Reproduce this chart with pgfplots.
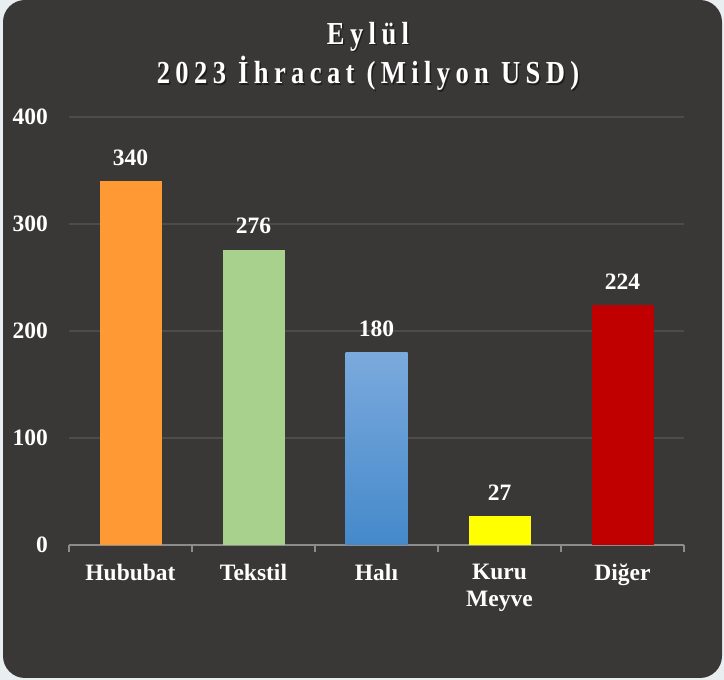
\documentclass[border=0pt]{standalone}
\usepackage{fontspec}
\setmainfont{Liberation Serif}
\usepackage{pgfplots}
\pgfplotsset{compat=1.18}
\definecolor{outerbg}{HTML}{E9EFF1}
\definecolor{panel}{HTML}{3A3837}
\definecolor{gridc}{HTML}{4E4C4B}
\definecolor{axisc}{HTML}{8C8C8C}
\definecolor{c1}{HTML}{FF9933}
\definecolor{c2}{HTML}{A9D18E}
\definecolor{c3t}{HTML}{7AAADD}
\definecolor{c3b}{HTML}{4589CA}
\definecolor{c4}{HTML}{FFFF00}
\definecolor{c5}{HTML}{C00000}
\newcommand{\lblfont}{\bfseries\fontsize{23.5}{27}\selectfont}
\newcommand{\ttlfont}{\bfseries\fontsize{32}{36}\selectfont}
\newdimen\lsp \lsp=6.5pt
\def\sp#1{\spi#1\relax}
\def\spi#1{\ifx\relax#1\else#1\kern\lsp\expandafter\spi\fi}
\newcommand{\ttlone}{\scalebox{0.83}[1]{\sp{Eylül}}}
\newcommand{\ttltwo}{\scalebox{0.83}[1]{\sp{2023} \sp{İhracat} \sp{(Milyon} \sp{USD)}}}
\begin{document}
\begin{tikzpicture}[x=1pt,y=1pt]
\fill[outerbg] (0,0) rectangle (724,680);
\fill[panel, rounded corners=22pt] (3,2) rectangle (722,680);
\node[anchor=base, text=black, opacity=0.45, font=\ttlfont] at (372.2,634) {\ttlone};
\node[anchor=base, text=black, opacity=0.45, font=\ttlfont] at (372.2,594.5) {\ttltwo};
\node[anchor=base, text=white, font=\ttlfont] at (370.7,635.5) {\ttlone};
\node[anchor=base, text=white, font=\ttlfont] at (370.7,596) {\ttltwo};
\begin{axis}[
  at={(69pt,135pt)}, anchor=south west, scale only axis,
  width=615pt, height=428pt,
  xmin=-0.5, xmax=4.5, ymin=0, ymax=400,
  axis x line=bottom, axis y line=left,
  x axis line style={-, draw=axisc, line width=2pt},
  y axis line style={draw=none},
  xtick={-0.5,0.5,1.5,2.5,3.5,4.5}, x tick label as interval,
  xticklabels={Hububat,Tekstil,Halı,{Kuru\\Meyve},Diğer},
  xtick style={draw=axisc, line width=2pt},
  major tick length=7pt, tick align=outside,
  ytick={0,100,200,300,400}, ytick style={draw=none},
  ymajorgrids, major grid style={draw=gridc, line width=1.5pt},
  /pgf/number format/assume math mode=true,
  tick label style={font=\lblfont, text=white},
  xticklabel style={align=center, anchor=north, inner sep=0pt, yshift=-12pt},
  yticklabel style={anchor=east, inner sep=0pt, xshift=-14pt},
  nodes near coords,
  nodes near coords style={font=\lblfont, text=white, anchor=base, inner sep=0pt, yshift=16pt},
  clip=false,
]
\addplot[ybar, bar width=62pt, bar shift=0pt, fill=c1, draw=none] coordinates {(0,340)};
\addplot[ybar, bar width=62pt, bar shift=0pt, fill=c2, draw=none] coordinates {(1,276)};
\addplot[ybar, bar width=62pt, bar shift=0pt, top color=c3t, bottom color=c3b, draw=none] coordinates {(2,180)};
\addplot[ybar, bar width=62pt, bar shift=0pt, fill=c4, draw=none] coordinates {(3,27)};
\addplot[ybar, bar width=62pt, bar shift=0pt, fill=c5, draw=none] coordinates {(4,224)};
\end{axis}
\end{tikzpicture}
\end{document}
